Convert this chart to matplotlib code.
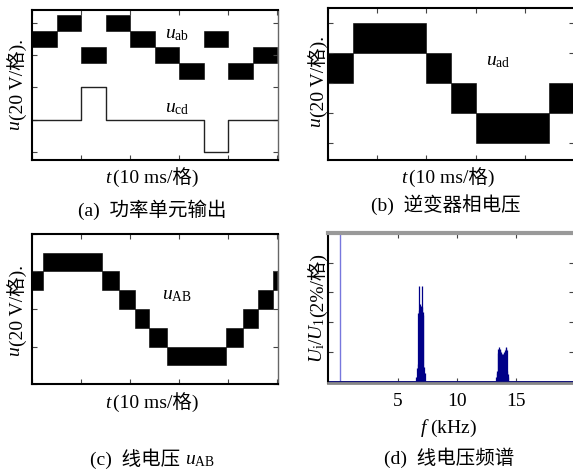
import numpy as np
import matplotlib
matplotlib.use("Agg")
import matplotlib.pyplot as plt

plt.rcParams['mathtext.fontset'] = 'custom'
plt.rcParams['mathtext.rm'] = 'Liberation Serif'
plt.rcParams['mathtext.it'] = 'Liberation Serif:italic'
plt.rcParams['mathtext.bf'] = 'Liberation Serif:bold'
plt.rcParams['font.family'] = ['Liberation Serif', 'Noto Sans CJK SC']

MIX = ['Liberation Serif', 'Noto Sans CJK SC']
FS = 14

# (a) power cell output: u_ab band levels, u_cd steps
uab_edges = [0, 0.5, 1.0, 1.5, 2.0, 2.5, 3.0, 3.5, 4.0, 4.5, 5.0]
uab_lo = [3.25, 3.75, 2.75, 3.75, 3.25, 2.75, 2.25, 3.25, 2.25, 2.75]
uab_hi = [3.75, 4.25, 3.25, 4.25, 3.75, 3.25, 2.75, 3.75, 2.75, 3.25]
ucd_t = [0, 1.0, 1.5, 3.5, 4.0, 5.0]
ucd_v = [1, 2, 1, 0, 1, 1]

# (b) inverter phase voltage u_ad
uad_edges = [0, 0.5, 2.0, 2.5, 3.0, 4.5, 5.0]
uad_lo = [2, 3, 2, 1, 0, 1]
uad_hi = [3, 4, 3, 2, 1, 2]

# (c) line voltage u_AB
uAB_edges = [0, 0.22, 1.43, 1.78, 2.10, 2.39, 2.76, 3.96, 4.31, 4.61, 4.92, 5.0]
uAB_lo = [2.5, 3.0, 2.5, 2.0, 1.5, 1.0, 0.5, 1.0, 1.5, 2.0, 2.5]
uAB_hi = [3.0, 3.5, 3.0, 2.5, 2.0, 1.5, 1.0, 1.5, 2.0, 2.5, 3.0]

# (d) spectrum, kHz / %
fund_f = 0.05
fund_a = 100.0
spec_f = [6.55, 6.60, 6.65, 6.70, 6.75, 6.80, 6.85, 6.90, 6.95, 7.00, 7.05, 7.10, 7.15, 7.20, 7.25,
          13.30, 13.35, 13.40, 13.45, 13.50, 13.55, 13.60, 13.65, 13.70, 13.75, 13.80, 13.85,
          13.90, 13.95, 14.00, 14.05, 14.10, 14.15, 14.20, 14.25, 14.30, 14.35]
spec_a = [0.3, 0.9, 1.2, 4.6, 4.8, 6.4, 5.2, 5.0, 5.1, 5.0, 6.4, 4.7, 4.5, 1.0, 0.6,
          0.3, 0.6, 0.7, 1.9, 2.2, 2.3, 2.2, 2.1, 2.0, 1.9, 1.85, 1.8,
          1.85, 1.9, 2.0, 2.1, 2.25, 2.3, 2.1, 0.7, 0.5, 0.3]

W, H = 573, 469


def rect(l, t, r, b):
    return [l / W, 1 - b / H, (r - l) / W, (b - t) / H]


def style(ax):
    ax.tick_params(direction='in', length=3.5, width=0.8, color='#444444',
                   top=True, right=True, labelbottom=False, labelleft=False)
    for s in ['left', 'top', 'bottom']:
        ax.spines[s].set_linewidth(1.5)
    ax.spines['right'].set_linewidth(1.0)
    ax.spines['right'].set_color('#666666')


def bands(ax, edges, lo, hi):
    e = np.array(edges)
    ax.bar(e[:-1], np.array(hi) - np.array(lo), width=np.diff(e), bottom=lo,
           align='edge', color='black', edgecolor='black', linewidth=0.4)


fig = plt.figure(figsize=(W / 100, H / 100), dpi=100)

ax1 = fig.add_axes(rect(32, 10, 278, 160))
bands(ax1, uab_edges, uab_lo, uab_hi)
ax1.step(ucd_t, ucd_v, where='post', color='#222222', lw=1.0)
ax1.set_xlim(0, 5.02)
ax1.set_ylim(-0.25, 4.4)
ax1.set_xticks([0, 1, 2, 3, 4, 5])
ax1.set_yticks([0, 1, 2, 3, 4])
ax1.text(2.96, 3.63, r'$u_{\mathrm{ab}}$', fontsize=FS, ha='center', va='center')
ax1.text(2.96, 1.36, r'$u_{\mathrm{cd}}$', fontsize=FS, ha='center', va='center')
style(ax1)

ax2 = fig.add_axes(rect(328, 8, 574, 160))
bands(ax2, uad_edges, uad_lo, uad_hi)
ax2.set_xlim(0, 5.0)
ax2.set_ylim(-0.57, 4.5)
ax2.set_xticks([0, 1, 2, 3, 4, 5])
ax2.set_yticks([0, 1, 2, 3, 4])
ax2.text(3.47, 2.7, r'$u_{\mathrm{ad}}$', fontsize=FS, ha='center', va='center')
style(ax2)

ax3 = fig.add_axes(rect(32, 234, 278, 384))
bands(ax3, uAB_edges, uAB_lo, uAB_hi)
ax3.set_xlim(0, 5.02)
ax3.set_ylim(0, 4)
ax3.set_xticks([0, 1, 2, 3, 4, 5])
ax3.set_yticks([0, 1, 2, 3, 4])
ax3.text(2.96, 2.37, r'$u_{\mathrm{AB}}$', fontsize=FS, ha='center', va='center')
style(ax3)

ax4 = fig.add_axes(rect(328, 233, 574, 383))
ax4.vlines([fund_f], 0, [fund_a], color='#7777dd', lw=1.0)
ax4.vlines(spec_f, 0, spec_a, color='#000088', lw=0.9)
ax4.axhline(0, color='#10107a', lw=1.4)
ax4.set_xlim(-0.93, 19.9)
ax4.set_ylim(-0.1, 10)
ax4.set_xticks([5, 10, 15])
ax4.set_xticklabels(['5', '10', '15'])
ax4.set_yticks([2, 4, 6, 8])
ax4.tick_params(direction='in', length=3.5, width=0.8, color='#444444',
                top=True, right=True, labelleft=False, labelsize=FS, pad=7)
ax4.spines['left'].set_linewidth(1.5)
ax4.spines['top'].set_linewidth(3)
ax4.spines['top'].set_color('#999999')
ax4.spines['bottom'].set_linewidth(2)
ax4.spines['bottom'].set_color('#888888')


def rich(ax, pieces, rot=0):
    arts = []
    t = None
    for s, fam in pieces:
        if t is None:
            t = ax.annotate(s, xy=(0, 0), xycoords='figure pixels', rotation=rot,
                            ha='left', va='bottom', fontsize=FS, family=fam,
                            annotation_clip=False)
        else:
            xy = (1, 0) if rot == 0 else (0, 1)
            t = ax.annotate(s, xy=xy, xycoords=t, rotation=rot,
                            ha='left', va='bottom', fontsize=FS, family=fam,
                            annotation_clip=False)
        arts.append(t)
    return arts


labels = [
    (ax1, [(r'$u$', MIX), ('(20 V/格).', MIX)], 90, 17, 85),
    (ax1, [(r'$t$', MIX), ('(10 ms/格)', MIX)], 0, 152, 177),
    (ax1, [('(a)  功率单元输出', MIX)], 0, 152, 210),
    (ax2, [(r'$u$', MIX), ('(20 V/格).', MIX)], 90, 318, 82),
    (ax2, [(r'$t$', MIX), ('(10 ms/格)', MIX)], 0, 448, 177),
    (ax2, [('(b)  逆变器相电压', MIX)], 0, 446, 205),
    (ax3, [(r'$u$', MIX), ('(20 V/格).', MIX)], 90, 17, 311),
    (ax3, [(r'$t$', MIX), ('(10 ms/格)', MIX)], 0, 152, 402),
    (ax3, [('(c)  线电压 ', MIX), (r'$u_{\mathrm{AB}}$', MIX)], 0, 152, 459),
    (ax4, [(r'$U_{\mathrm{i}}/U_{\mathrm{1}}$', MIX), ('(2%/格)', MIX)], 90, 317, 308),
    (ax4, [(r'$f$ (kHz)', MIX)], 0, 449, 428),
    (ax4, [('(d)  线电压频谱', MIX)], 0, 449, 458),
]

groups = []
for ax, pieces, rot, cx, cy in labels:
    groups.append((rich(ax, pieces, rot), cx, cy))

fig.canvas.draw()
r = fig.canvas.get_renderer()
for arts, cx, cy in groups:
    bbs = [a.get_window_extent(r) for a in arts]
    x0 = min(b.x0 for b in bbs)
    x1 = max(b.x1 for b in bbs)
    y0 = min(b.y0 for b in bbs)
    y1 = max(b.y1 for b in bbs)
    dx = cx - (x0 + x1) / 2
    dy = (H - cy) - (y0 + y1) / 2
    a0 = arts[0]
    a0.xyann = (a0.xyann[0] + dx, a0.xyann[1] + dy)

fig.savefig('out.png', dpi=100)
